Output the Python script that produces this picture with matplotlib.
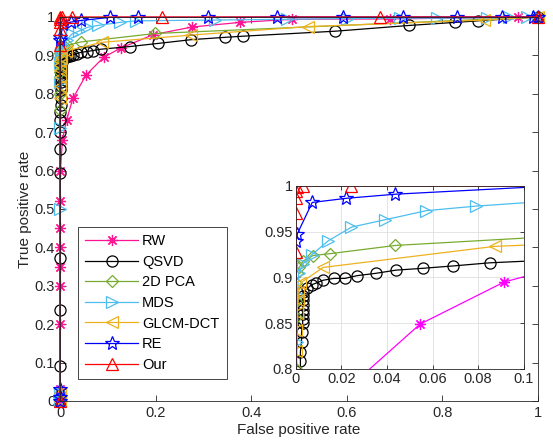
import matplotlib
matplotlib.use("Agg")
import matplotlib.pyplot as plt

plt.rcParams['font.family'] = ['Liberation Sans', 'DejaVu Sans']

# ---------- ROC data ----------
names = ['RW', 'QSVD', '2D PCA', 'MDS', 'GLCM-DCT', 'RE', 'Our']

rw_fpr = [0, 0, 0, 0, 0, 0, 0, 0, 0.001, 0.005, 0.014, 0.027, 0.0545, 0.0914,
          0.127, 0.195, 0.277, 0.377, 0.485, 0.69, 0.958, 1]
rw_tpr = [0, 0.03, 0.2, 0.3, 0.35, 0.4, 0.45, 0.52, 0.6, 0.68, 0.733, 0.788,
          0.849, 0.895, 0.919, 0.954, 0.974, 0.986, 0.994, 0.995, 0.999, 1]

qsvd_fpr = [0, 0, 0, 0, 0, 0, 0.001, 0.001, 0.001, 0.0015, 0.002, 0.002, 0.002, 0.0025,
            0.0025, 0.003, 0.003, 0.003, 0.003, 0.003, 0.003, 0.003, 0.0032, 0.005, 0.0069,
            0.009, 0.012, 0.0167, 0.0215, 0.0269, 0.035, 0.0439, 0.0556, 0.069, 0.085,
            0.146, 0.204, 0.275, 0.345, 0.383, 0.576, 0.731, 0.827, 0.875, 1]
qsvd_tpr = [0, 0.09, 0.237, 0.373, 0.593, 0.656, 0.70, 0.733, 0.753, 0.77, 0.79, 0.809,
            0.819, 0.83, 0.84, 0.85, 0.855, 0.86, 0.865, 0.87, 0.875, 0.88, 0.884, 0.888,
            0.892, 0.894, 0.897, 0.899, 0.899, 0.902, 0.9045, 0.908, 0.910, 0.9126, 0.916,
            0.923, 0.931, 0.941, 0.947, 0.95, 0.963, 0.978, 0.986, 0.99, 1]

pca_fpr = [0, 0, 0, 0, 0, 0, 0, 0.0003, 0.0015, 0.0032, 0.0076, 0.0149, 0.0437, 0.199, 1]
pca_tpr = [0, 0.02, 0.758, 0.80, 0.857, 0.874, 0.894, 0.905, 0.911, 0.918, 0.924, 0.926,
           0.935, 0.957, 1]

mds_fpr = [0, 0, 0, 0, 0.0005, 0.0008, 0.0012, 0.0032, 0.0069, 0.0142, 0.0244, 0.039,
           0.0573, 0.0792, 0.126, 0.16, 0.324, 0.474, 0.6, 0.711, 0.788, 0.893, 0.94,
           0.976, 1]
mds_tpr = [0, 0.02, 0.50, 0.71, 0.83, 0.881, 0.905, 0.915, 0.9246, 0.94, 0.955, 0.963,
           0.973, 0.978, 0.986, 0.99, 0.992, 0.994, 0.996, 0.997, 0.997, 0.998, 0.999,
           1, 1]

glcm_fpr = [0, 0, 0, 0, 0.0002, 0.0005, 0.001, 0.001, 0.002, 0.012, 0.0873, 0.275,
            0.519, 0.887, 1]
glcm_tpr = [0, 0.02, 0.79, 0.82, 0.843, 0.861, 0.875, 0.8845, 0.894, 0.911, 0.934,
            0.953, 0.975, 0.992, 1]

re_fpr = [0, 0, 0, 0, 0.0007, 0.0072, 0.0222, 0.0437, 0.105, 0.164, 0.31, 0.453, 0.593,
          0.718, 0.83, 0.924, 0.99, 1]
re_tpr = [0, 0.01, 0.03, 0.94, 0.948, 0.982, 0.9865, 0.991, 0.999, 0.999, 0.999, 1, 1,
          1, 1, 1, 1, 1]

our_fpr = [0, 0, 0, 0, 0.0002, 0.0003, 0.0032, 0.0244, 0.214, 0.67, 1]
our_tpr = [0, 0.928, 0.97, 0.9865, 0.994, 0.999, 1, 1, 1, 1, 1]

fprs = [rw_fpr, qsvd_fpr, pca_fpr, mds_fpr, glcm_fpr, re_fpr, our_fpr]
tprs = [rw_tpr, qsvd_tpr, pca_tpr, mds_tpr, glcm_tpr, re_tpr, our_tpr]
markers = [(8, 2, 0), 'o', 'D', '>', '<', '*', '^']
colors = ['#FF1493', 'black', '#77AC30', '#4DBEEE', '#EDB120', '#0000FF', '#FF0000']
inset_colors = ['#FF00FF', 'black', '#77AC30', '#4DBEEE', '#EDB120', '#0000FF', '#FF0000']
msizes = [8, 8, 6.5, 8.5, 8.5, 10, 9]

# ---------- main axes ----------
fig = plt.figure(figsize=(5.53, 4.47), dpi=100)
ax = fig.add_axes([0.1085, 0.103, 0.8644, 0.859])

for i in range(len(names)):
    ax.plot(fprs[i], tprs[i], color=colors[i], marker=markers[i], markersize=msizes[i],
            markerfacecolor='none', markeredgewidth=0.9, linewidth=0.9,
            label=names[i], clip_on=False)

ax.set_xlim(0, 1)
ax.set_ylim(0, 1)
ax.set_xticks([0, 0.2, 0.4, 0.6, 0.8, 1])
ax.set_xticklabels(['0', '0.2', '0.4', '0.6', '0.8', '1'])
ax.set_yticks([i / 10 for i in range(11)])
ax.set_yticklabels(['0'] + ['0.%d' % i for i in range(1, 10)] + ['1'])
ax.tick_params(direction='in', top=True, right=True, labelsize=10.5, colors='#262626',
               length=4, width=0.6)
for s in ax.spines.values():
    s.set_color('#262626')
    s.set_linewidth(0.6)
ax.set_xlabel('False positive rate', fontsize=11, color='#262626', labelpad=2)
ax.set_ylabel('True positive rate', fontsize=11, color='#262626', labelpad=2)

leg = ax.legend(loc='upper left', bbox_to_anchor=(78 / 553, 1 - 227 / 447),
                bbox_transform=fig.transFigure, borderaxespad=0, fancybox=False,
                edgecolor='#262626', framealpha=1, fontsize=10.5, handlelength=3.6,
                labelspacing=0.45, borderpad=0.5, handletextpad=0.3)
leg.get_frame().set_linewidth(0.6)

# ---------- inset (zoom) ----------
axin = fig.add_axes([0.535, 0.1745, 0.412, 0.4095])
for i in range(len(names)):
    axin.plot(fprs[i], tprs[i], color=inset_colors[i], marker=markers[i],
              markersize=msizes[i], markerfacecolor='none', markeredgewidth=0.9,
              linewidth=0.9)
axin.set_xlim(0, 0.1)
axin.set_ylim(0.8, 1)
axin.set_xticks([0, 0.02, 0.04, 0.06, 0.08, 0.1])
axin.set_xticklabels(['0', '0.02', '0.04', '0.06', '0.08', '0.1'])
axin.set_yticks([0.8, 0.85, 0.9, 0.95, 1])
axin.set_yticklabels(['0.8', '0.85', '0.9', '0.95', '1'])
axin.grid(True, color='#DFDFDF', linewidth=0.6)
axin.set_axisbelow(True)
axin.tick_params(direction='in', top=True, right=True, labelsize=10.5, colors='#262626',
                 length=3, width=0.6, pad=2)
for s in axin.spines.values():
    s.set_color('#262626')
    s.set_linewidth(0.6)

fig.savefig('out.png', dpi=100)
